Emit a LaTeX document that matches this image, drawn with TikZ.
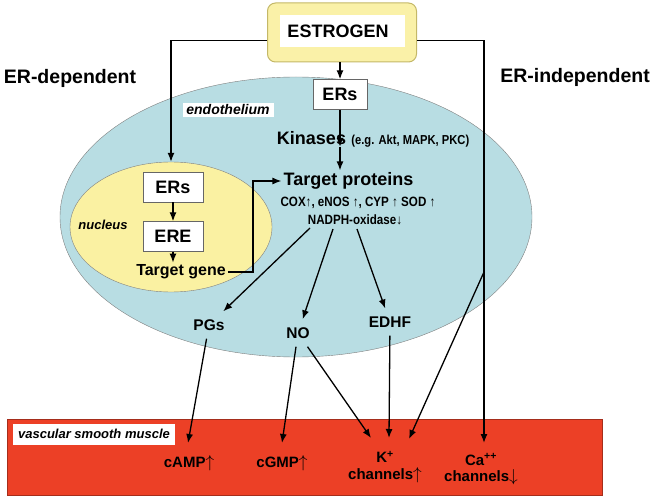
\documentclass[tikz,border=0pt]{standalone}
\usepackage{fontspec}
\setmainfont{Liberation Sans}
\newfontfamily\narrowfont[FakeStretch=0.86]{Liberation Sans}
\usetikzlibrary{arrows.meta,shapes.geometric}

\definecolor{endoblue}{RGB}{184,221,227}
\definecolor{nucyellow}{RGB}{250,241,162}
\definecolor{estrofill}{RGB}{250,241,168}
\definecolor{estroedge}{RGB}{196,184,104}
\definecolor{musclered}{RGB}{236,64,38}

\newcommand{\upar}{{\fontsize{19}{19}\selectfont$\uparrow$}}
\newcommand{\dnar}{{\fontsize{19}{19}\selectfont$\downarrow$}}

\begin{document}
\begin{tikzpicture}[x=1pt,y=-1pt,
    arr/.style={line width=1.3pt,-{Latex[length=9pt,width=7pt]}},
    erbox/.style={draw=black!60,fill=white,font=\bfseries\fontsize{18}{20}\selectfont,minimum height=30pt,inner sep=0pt},
    midlbl/.style={font=\bfseries\fontsize{15.5}{17}\selectfont,inner sep=8pt},
    botlbl/.style={font=\bfseries\fontsize{15}{17}\selectfont,align=center,inner sep=1pt},
    cellname/.style={fill=white,font=\bfseries\itshape\fontsize{14}{16}\selectfont,inner sep=2pt}]
    \useasboundingbox (0,0) rectangle (654,497);

    % compartments
    \node[ellipse,draw=black!50,fill=endoblue,minimum width=472pt,minimum height=280pt] (endo) at (296,217) {};
    \node[ellipse,draw=black!50,fill=nucyellow,minimum width=202pt,minimum height=130pt] (nuc) at (171,227) {};
    \node[draw=musclered!70!black,fill=musclered,minimum width=595pt,minimum height=76pt,inner sep=0pt] (muscle) at (304.5,457) {};

    \node[font=\bfseries\fontsize{19.5}{21}\selectfont] (erdep) at (70,78) {ER-dependent};
    \node[font=\bfseries\fontsize{19.5}{21}\selectfont] (erindep) at (575,77) {ER-independent};

    \node[draw=estroedge,fill=estrofill,line width=1pt,rounded corners=8pt,minimum width=149pt,minimum height=59pt] (estrogen) at (342,32.5) {};
    \node[fill=white,minimum width=125pt,minimum height=32pt] (estrowin) at (342.5,31) {};
    \node[font=\bfseries\fontsize{18}{20}\selectfont] (estrolbl) at (338,31) {ESTROGEN};

    \node[cellname,minimum width=91pt] (endolbl) at (228,110) {endothelium};
    \node[font=\bfseries\itshape\fontsize{13}{15}\selectfont] (nuclbl) at (103,225) {nucleus};
    \node[cellname,font=\bfseries\itshape\fontsize{13}{15}\selectfont,minimum width=162pt,minimum height=21pt] (vsm) at (94,434) {vascular smooth muscle};

    % endothelium pathway
    \node[erbox,minimum width=54pt] (ers1) at (340,94.5) {ERs};
    \node[font=\bfseries\fontsize{18}{20}\selectfont,inner sep=2pt] (kin) at (311.5,138) {Kinases};
    \node[anchor=base west,font=\narrowfont\bfseries\fontsize{13}{15}\selectfont,inner sep=2pt] (kineg) at ([xshift=1pt]kin.base east) {(e.g. Akt, MAPK, PKC)};
    \node[font=\bfseries\fontsize{18}{20}\selectfont,inner sep=2pt] (tp) at (348.5,181) {Target proteins};
    \node[font=\narrowfont\bfseries\fontsize{13.5}{15}\selectfont,inner sep=1pt] (cox) at (358,203) {COX↑, eNOS ↑, CYP ↑ SOD ↑};
    \node[font=\narrowfont\bfseries\fontsize{13.5}{15}\selectfont,inner sep=1pt] (nadph) at (355,220) {NADPH-oxidase↓};

    % nucleus pathway
    \node[erbox,minimum width=60pt] (ers2) at (173,187) {ERs};
    \node[erbox,minimum width=60pt] (ere) at (173,236.5) {ERE};
    \node[font=\bfseries\fontsize{16}{18}\selectfont,inner sep=2pt] (tgene) at (181,272) {Target gene};

    % mediators
    \node[midlbl] (pgs) at (209,325) {PGs};
    \node[midlbl] (no) at (298,333) {NO};
    \node[midlbl] (edhf) at (390,322) {EDHF};

    % smooth muscle targets
    \node[botlbl] (camp) at (189,463) {cAMP\upar};
    \node[botlbl] (cgmp) at (282,463) {cGMP\upar};
    \node[botlbl] (kch) at (385,467) {K\textsuperscript{+}\\channels\upar};
    \node[botlbl] (cach) at (481,469) {Ca\textsuperscript{++}\\[-1pt]channels\dnar};

    \coordinate (bend) at (253,181);
    \coordinate (tp1) at (310,228);
    \coordinate (tp2) at (333,229);
    \coordinate (tp3) at (357,229);
    \coordinate (brk) at (484,272);
    \coordinate (camp-in) at (188,443);
    \coordinate (cgmp-in) at (282,443);
    \coordinate (k-in1) at (371,438);
    \coordinate (k-in2) at (389,438);
    \coordinate (k-in3) at (409,439);
    \coordinate (ca-in) at (484,443);

    \draw[arr] (estrogen.south -| ers1) -- (ers1.north);
    \draw[arr] (ers1 |- ers1.south) -- (ers1 |- kin.south);
    \draw[arr] (ers1 |- kin.south) -- (ers1 |- tp.north);
    \draw[arr] ([yshift=-8pt]estrogen.west) -| (nuc.north);
    \draw[arr] ([yshift=-8pt]estrogen.east) -| (ca-in);
    \draw[arr] (ers2) -- (ere);
    \draw[arr] (ere.south) -- (ere.south |- tgene.north);
    \draw[arr] (tgene.east) -| (bend) -- (tp.west);
    \draw[arr] (tp1) -- (pgs);
    \draw[arr] (tp2) -- (no);
    \draw[arr] (tp3) -- (edhf);
    \draw[arr] (pgs) -- (camp-in);
    \draw[arr] (no) -- (cgmp-in);
    \draw[arr] (no) -- (k-in1);
    \draw[arr] (edhf) -- (k-in2);
    \draw[arr] (brk) -- (k-in3);

\end{tikzpicture}
\end{document}
